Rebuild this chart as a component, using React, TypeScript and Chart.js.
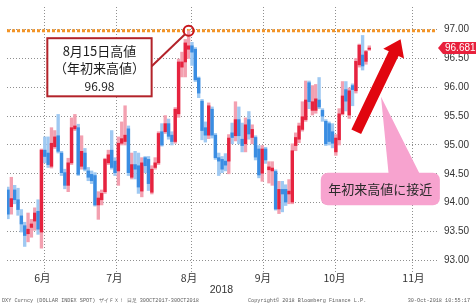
import React, { useEffect, useRef } from "react";
import { Chart, registerables } from "chart.js";

Chart.register(...registerables);

// ---- data (trading-day index 0 = 31 May 2018 ... 108 = 30 Oct 2018) ----
const openV = [
  94.22, 93.93, 94.22, 94.05, 93.77, 93.6, 93.46, 93.57, 93.68, 93.85,
  93.49, 94.91, 94.86, 94.63, 94.97, 95.16, 94.86, 94.52, 94.3, 94.69,
  95.28, 95.3, 94.63, 94.86, 94.55, 94.49, 94.47, 93.96, 94.05, 94.19,
  94.69, 94.91, 94.72, 94.55, 95.03, 95.06, 95.28, 94.44, 94.66, 94.64,
  94.2, 94.78, 94.75, 94.18, 94.61, 94.69, 95.23, 95.23, 95.37, 95.17,
  95.06, 95.54, 96.35, 96.44, 96.66, 96.72, 96.66, 96.16, 95.76, 95.3,
  95.17, 95.62, 95.17, 94.78, 94.75, 94.72, 94.72, 95.21, 95.16, 95.44,
  95.1, 95.02, 95.44, 95.13, 95.13, 94.93, 94.51, 94.93, 94.57, 94.55,
  94.54, 93.89, 94.23, 94.23, 94.15, 94.01, 94.99, 95.1, 95.27, 95.44,
  96.08, 95.6, 95.6, 95.78, 95.6, 95.41, 95.37, 95.23, 94.88, 95.09,
  95.54, 95.96, 95.52, 96.03, 95.94, 96.39, 96.56, 96.45, 96.66,
];
const highV = [
  94.27, 94.44, 94.3, 94.25, 93.88, 93.66, 93.82, 93.71, 93.91, 94.05,
  94.93, 95.14, 95.14, 95.3, 95.25, 95.53, 94.89, 94.58, 94.77, 95.47,
  95.53, 95.36, 95.16, 94.94, 94.61, 94.55, 94.52, 94.19, 94.22, 94.77,
  94.91, 95.25, 94.78, 95.14, 95.4, 95.68, 95.33, 94.86, 94.89, 94.86,
  94.78, 94.8, 94.8, 94.64, 94.78, 95.23, 95.37, 95.51, 95.45, 95.23,
  95.65, 96.49, 96.61, 96.83, 96.98, 96.78, 96.69, 96.18, 95.79, 95.4,
  95.73, 95.66, 95.2, 94.86, 94.8, 94.85, 95.18, 95.38, 95.75, 95.66,
  95.38, 95.47, 95.58, 95.35, 95.16, 94.99, 94.99, 94.96, 94.71, 94.71,
  94.57, 94.37, 94.37, 94.31, 94.4, 95.02, 95.21, 95.38, 95.75, 96.11,
  96.11, 96.03, 96.05, 96.17, 95.63, 95.44, 95.4, 95.37, 95.18, 95.63,
  96.1, 96.1, 95.99, 96.06, 96.5, 96.75, 96.9, 96.64, 96.72,
];
const lowV = [
  93.72, 93.8, 93.98, 93.78, 93.49, 93.24, 93.32, 93.4, 93.52, 93.45,
  93.21, 94.69, 94.61, 94.6, 94.94, 94.86, 94.47, 94.24, 94.19, 94.66,
  95.25, 94.47, 94.58, 94.55, 94.38, 94.33, 93.94, 93.71, 93.96, 94.16,
  94.66, 94.58, 94.47, 94.3, 95.0, 95.0, 94.47, 94.41, 94.41, 94.16,
  94.1, 94.52, 94.21, 94.15, 94.58, 94.66, 94.98, 95.2, 95.1, 95.0,
  95.03, 95.48, 96.18, 96.18, 96.5, 96.38, 96.1, 95.82, 95.09, 95.05,
  95.11, 95.12, 94.75, 94.47, 94.52, 94.55, 94.5, 95.02, 95.07, 95.02,
  94.88, 94.88, 95.1, 95.02, 94.74, 94.43, 94.37, 94.68, 94.34, 94.3,
  93.87, 93.81, 93.84, 93.95, 93.98, 93.98, 94.9, 95.04, 95.24, 95.41,
  95.63, 95.52, 95.55, 95.63, 95.41, 94.99, 95.0, 94.95, 94.82, 95.0,
  95.52, 95.59, 95.46, 95.68, 95.9, 96.35, 96.3, 96.4, 96.64,
];
const closeV = [
  93.8, 94.07, 94.05, 93.88, 93.63, 93.43, 93.54, 93.63, 93.82, 93.54,
  94.91, 94.8, 94.66, 95.03, 95.14, 94.89, 94.52, 94.3, 94.69, 95.3,
  95.33, 94.49, 94.89, 94.58, 94.44, 94.38, 93.96, 94.08, 94.16, 94.75,
  94.83, 94.61, 94.52, 95.03, 95.11, 95.17, 94.52, 94.66, 94.58, 94.27,
  94.69, 94.64, 94.33, 94.58, 94.69, 95.2, 95.0, 95.37, 95.15, 95.06,
  95.62, 96.44, 96.44, 96.77, 96.72, 96.61, 96.13, 95.9, 95.25, 95.17,
  95.68, 95.17, 94.78, 94.72, 94.58, 94.65, 95.12, 95.13, 95.44, 95.16,
  94.99, 95.35, 95.19, 95.27, 94.79, 94.48, 94.93, 94.74, 94.62, 94.6,
  93.89, 94.23, 94.15, 94.01, 94.2, 94.9, 95.13, 95.33, 95.49, 95.78,
  95.75, 95.75, 95.8, 95.66, 95.5, 95.02, 95.06, 95.03, 95.12, 95.54,
  95.85, 95.76, 95.94, 95.96, 96.45, 96.73, 96.37, 96.62, 96.681,
];

const monthLabels = ["6月", "7月", "8月", "9月", "10月", "11月"];
const monthLabelPos = [10.3, 31.8, 54.1, 76.2, 97.6, 121.2];
const monthBoundaries = [0.5, 21.5, 43.5, 66.5, 86.5, 109.5];
const yTicks = [93, 93.5, 94, 94.5, 95, 95.5, 96, 96.5, 97];
const yearLabel = "2018";
const yearLabelPos = 63.8;

const yearHigh = 96.98;
const yearHighIndex = 54;
const highBoxLines = ["8月15日高値", "（年初来高値）", "96.98"];
const calloutText = "年初来高値に接近";
const footerLeft = "DXY Curncy (DOLLAR INDEX SPOT) ザイＦＸ！ 日足 30OCT2017-30OCT2018";
const footerMid = "Copyright© 2018 Bloomberg Finance L.P.";
const footerRight = "30-Oct-2018 10:55:17";

const X_MIN = -0.294;
const X_MAX = 128.24;
const Y_MIN = 92.797;
const Y_MAX = 97.393;

// annotation anchors in data space (index, value)
const highBox = { x0: 11.76, x1: 42.94, yTop: 96.852, yBot: 95.844 };
const pinkBox = { x0: 93.5, x1: 129.1, yTop: 94.52, yBot: 93.955 };
const pinkWedge = { ax: 111.5, ay: 95.838, bx0: 113.8, bx1: 123.2 };
const arrow = { x0: 104.1, y0: 95.23, x1: 117.35, y1: 96.835 };

const UP = "#e6233f";
const DOWN = "#3a8de2";
const UP_W = "#f3a0b0";
const DOWN_W = "#9fc9f2";
const GRID = "#8f8f8f";

const overlay = {
  id: "overlay",
  afterDatasetsDraw(chart: any) {
    const { ctx } = chart;
    const xs = chart.scales.x;
    const ys = chart.scales.y;
    const X = (v: number) => xs.getPixelForValue(v);
    const Y = (v: number) => ys.getPixelForValue(v);
    ctx.save();

    // pink callout (wedge + rounded box)
    ctx.fillStyle = "#f7a3cf";
    ctx.beginPath();
    ctx.moveTo(X(pinkWedge.ax), Y(pinkWedge.ay));
    ctx.lineTo(X(pinkWedge.bx0), Y(pinkBox.yTop) + 2);
    ctx.lineTo(X(pinkWedge.bx1), Y(pinkBox.yTop) + 2);
    ctx.closePath();
    ctx.fill();
    const px0 = X(pinkBox.x0), px1 = X(pinkBox.x1), py0 = Y(pinkBox.yTop), py1 = Y(pinkBox.yBot);
    ctx.beginPath();
    (ctx as any).roundRect(px0, py0, px1 - px0, py1 - py0, 7);
    ctx.fill();
    ctx.fillStyle = "#2a2a2a";
    ctx.font = '13px "Noto Sans CJK JP"';
    ctx.textAlign = "center";
    ctx.textBaseline = "middle";
    ctx.fillText(calloutText, (px0 + px1) / 2, (py0 + py1) / 2 + 0.5);

    // red arrow
    const tx = X(arrow.x0), ty = Y(arrow.y0), hx = X(arrow.x1), hy = Y(arrow.y1);
    const len = Math.hypot(hx - tx, hy - ty);
    const dx = (hx - tx) / len, dy = (hy - ty) / len;
    const nx = -dy, ny = dx;
    const hw = 5.4, hh = 11.5, hl = 16;
    const bx = hx - dx * hl, by = hy - dy * hl;
    ctx.fillStyle = "#e1060f";
    ctx.beginPath();
    ctx.moveTo(tx - nx * hw, ty - ny * hw);
    ctx.lineTo(bx - nx * hw, by - ny * hw);
    ctx.lineTo(bx - nx * hh, by - ny * hh);
    ctx.lineTo(hx, hy);
    ctx.lineTo(bx + nx * hh, by + ny * hh);
    ctx.lineTo(bx + nx * hw, by + ny * hw);
    ctx.lineTo(tx + nx * hw, ty + ny * hw);
    ctx.closePath();
    ctx.fill();

    // year-high note box + connector
    const bx0 = X(highBox.x0), bx1 = X(highBox.x1), by0 = Y(highBox.yTop), by1 = Y(highBox.yBot);
    const cx = X(yearHighIndex), cy = Y(yearHigh);
    const sx = bx1, sy = by0 + 28;
    const l2 = Math.hypot(cx - sx, cy - sy);
    ctx.strokeStyle = "#b3232a";
    ctx.lineWidth = 2;
    ctx.beginPath();
    ctx.moveTo(sx, sy);
    ctx.lineTo(cx - ((cx - sx) / l2) * 5, cy - ((cy - sy) / l2) * 5);
    ctx.stroke();
    ctx.fillStyle = "#ffffff";
    ctx.fillRect(bx0, by0, bx1 - bx0, by1 - by0);
    ctx.strokeRect(bx0, by0, bx1 - bx0, by1 - by0);
    ctx.fillStyle = "#1e1e1e";
    ctx.textAlign = "center";
    ctx.textBaseline = "middle";
    const mx = (bx0 + bx1) / 2;
    ctx.font = '13px "Noto Sans CJK JP"';
    ctx.fillText(highBoxLines[0], mx, by0 + 13);
    ctx.fillText(highBoxLines[1], mx, by0 + 30);
    ctx.font = '12px "Noto Sans CJK JP"';
    ctx.fillText(highBoxLines[2], mx, by0 + 48);

    // last price tag
    const last = closeV[closeV.length - 1];
    const ly = Y(last);
    const lx = chart.chartArea.right + 1;
    ctx.fillStyle = "#e8203c";
    ctx.beginPath();
    ctx.moveTo(lx, ly);
    ctx.lineTo(lx + 5, ly - 6);
    ctx.lineTo(chart.width, ly - 6);
    ctx.lineTo(chart.width, ly + 6);
    ctx.lineTo(lx + 5, ly + 6);
    ctx.closePath();
    ctx.fill();
    ctx.fillStyle = "#ffffff";
    ctx.font = '10px "Liberation Sans"';
    ctx.textAlign = "left";
    ctx.fillText(last.toFixed(3), lx + 7, ly + 0.5);

    ctx.restore();
  },
  afterDraw(chart: any) {
    const { ctx } = chart;
    const xs = chart.scales.x;
    ctx.save();
    ctx.fillStyle = "#333";
    ctx.font = '10.5px "Liberation Sans"';
    ctx.textAlign = "center";
    ctx.textBaseline = "middle";
    ctx.fillText(yearLabel, xs.getPixelForValue(yearLabelPos), 290);
    ctx.fillStyle = "#5e5e5e";
    ctx.font = '5.2px "Liberation Mono"';
    ctx.textAlign = "left";
    ctx.fillText(footerLeft, 2, 301);
    ctx.fillText(footerMid, 248, 301);
    ctx.textAlign = "right";
    ctx.fillText(footerRight, 470, 301);
    ctx.restore();
  },
};

function bodyRange(o: number, c: number): [number, number] {
  const lo = Math.min(o, c), hi = Math.max(o, c);
  if (hi - lo < 0.02) {
    const m = (hi + lo) / 2;
    return [m - 0.01, m + 0.01];
  }
  return [lo, hi];
}

export default function App() {
  const ref = useRef<HTMLCanvasElement>(null);
  useEffect(() => {
    document.body.style.margin = "0";
    const up = closeV.map((c, i) => c >= openV[i]);
    const chart = new Chart(ref.current as HTMLCanvasElement, {
      type: "bar",
      data: {
        datasets: [
          {
            type: "line",
            data: [{ x: yearHighIndex, y: yearHigh }],
            showLine: false,
            pointRadius: 5,
            pointBorderWidth: 2,
            pointBorderColor: "#c8161d",
            pointBackgroundColor: "rgba(0,0,0,0)",
            order: 0,
          } as any,
          {
            type: "bar",
            data: openV.map((o, i) => ({ x: i, y: bodyRange(o, closeV[i]) })),
            backgroundColor: up.map((u) => (u ? UP : DOWN)),
            barThickness: 2.7,
            grouped: false,
            order: 1,
          } as any,
          {
            type: "bar",
            data: lowV.map((l, i) => ({ x: i, y: [l, highV[i]] })),
            backgroundColor: up.map((u) => (u ? UP_W : DOWN_W)),
            barThickness: 2.7,
            grouped: false,
            order: 2,
          } as any,
          {
            type: "line",
            data: [
              { x: X_MIN, y: yearHigh },
              { x: X_MAX, y: yearHigh },
            ],
            borderColor: "#f39426",
            borderWidth: 3,
            borderDash: [3, 2],
            pointRadius: 0,
            order: 3,
          } as any,
        ],
      },
      options: {
        animation: false,
        responsive: false,
        devicePixelRatio: 1,
        events: [],
        layout: { padding: 0 },
        plugins: { legend: { display: false }, tooltip: { enabled: false } },
        scales: {
          x: {
            type: "linear",
            position: "bottom",
            min: X_MIN,
            max: X_MAX,
            bounds: "data",
            offset: false,
            grid: { color: GRID, lineWidth: 1, drawTicks: false },
            border: { display: false, dash: [1, 2] },
            ticks: { display: false },
            afterBuildTicks: (s: any) => {
              s.ticks = monthBoundaries.map((v) => ({ value: v }));
            },
            afterFit: (s: any) => {
              s.height = 0;
              s.paddingLeft = 0;
              s.paddingRight = 0;
            },
          },
          xl: {
            type: "linear",
            position: "bottom",
            min: X_MIN,
            max: X_MAX,
            bounds: "data",
            offset: false,
            grid: { display: false, drawTicks: false },
            border: { display: false },
            ticks: {
              padding: 0,
              autoSkip: false,
              maxRotation: 0,
              color: "#333",
              font: { family: '"Noto Sans CJK JP"', size: 10.5 },
              callback: (_v: any, i: number) => monthLabels[i],
            },
            afterBuildTicks: (s: any) => {
              s.ticks = monthLabelPos.map((v) => ({ value: v }));
            },
            afterFit: (s: any) => {
              s.height = 34;
              s.paddingLeft = 0;
              s.paddingRight = 0;
            },
          },
          y: {
            type: "linear",
            position: "right",
            min: Y_MIN,
            max: Y_MAX,
            bounds: "data",
            grid: { color: GRID, lineWidth: 1, drawTicks: false },
            border: { display: false, dash: [1, 2] },
            ticks: {
              padding: 7,
              color: "#333",
              font: { family: '"Liberation Sans"', size: 10 },
              callback: (v: any) => Number(v).toFixed(2),
            },
            afterBuildTicks: (s: any) => {
              s.ticks = yTicks.map((v) => ({ value: v }));
            },
            afterFit: (s: any) => {
              s.width = 39;
              s.paddingTop = 0;
              s.paddingBottom = 0;
            },
          },
        },
      } as any,
      plugins: [overlay],
    });
    return () => chart.destroy();
  }, []);
  return (
    <div style={{ width: 476, height: 306, background: "#fff" }}>
      <canvas ref={ref} width={476} height={306} style={{ display: "block" }} />
    </div>
  );
}
